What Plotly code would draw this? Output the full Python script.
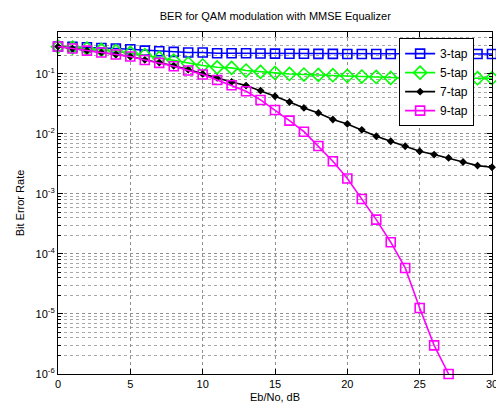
import plotly.graph_objects as go

ebno = list(range(0, 31))

ber_3tap = [0.286, 0.283, 0.279, 0.271, 0.265, 0.258, 0.245, 0.239, 0.233, 0.228,
            0.228, 0.221, 0.221, 0.221, 0.219, 0.218, 0.217, 0.217, 0.216, 0.216,
            0.215, 0.215, 0.215, 0.215, 0.215, 0.215, 0.215, 0.215, 0.215, 0.215, 0.215]
ber_5tap = [0.285, 0.275, 0.265, 0.252, 0.240, 0.225, 0.205, 0.185, 0.167, 0.149,
            0.138, 0.129, 0.126, 0.114, 0.108, 0.104, 0.100, 0.0977, 0.0963, 0.0952,
            0.0926, 0.0905, 0.0891, 0.0858, 0.0855, 0.0852, 0.085, 0.085, 0.0849, 0.0848, 0.0848]
ber_7tap = [0.286, 0.265, 0.245, 0.228, 0.211, 0.195, 0.172, 0.155, 0.137, 0.118,
            0.100, 0.0858, 0.0736, 0.064, 0.0528, 0.0425, 0.0341, 0.0271, 0.0224, 0.0174,
            0.0147, 0.0117, 0.00916, 0.00756, 0.00624, 0.00515, 0.00454, 0.00398, 0.00341,
            0.00297, 0.00279]
ber_9tap = [0.286, 0.265, 0.245, 0.228, 0.211, 0.195, 0.171, 0.153, 0.134, 0.114,
            0.0977, 0.0794, 0.0648, 0.0515, 0.0369, 0.0251, 0.0167, 0.0109, 0.0063, 0.00351,
            0.00181, 0.000826, 0.000374, 0.000157, 5.85e-5, 1.26e-5, 3.0e-6, 1.0e-6]

x_ticks = [0, 5, 10, 15, 20, 25, 30]
y_tickvals = [1e-6, 1e-5, 1e-4, 1e-3, 1e-2, 1e-1]
y_ticktext = ["10<sup>-6</sup>", "10<sup>-5</sup>", "10<sup>-4</sup>",
              "10<sup>-3</sup>", "10<sup>-2</sup>", "10<sup>-1</sup>"]
y_minor_vals = [m * d for d in y_tickvals for m in range(2, 10) if m * d <= 0.5]

FONT = "Liberation Sans, Arial, sans-serif"

fig = go.Figure()
fig.add_trace(go.Scatter(x=ebno, y=ber_3tap, name="3-tap", mode="lines+markers",
                         line=dict(color="#0000FF", width=1.6),
                         marker=dict(symbol="square-open", size=9, color="#0000FF",
                                     line=dict(width=1.6)),
                         cliponaxis=False))
fig.add_trace(go.Scatter(x=ebno, y=ber_5tap, name="5-tap", mode="lines+markers",
                         line=dict(color="#00FF00", width=1.6),
                         marker=dict(symbol="diamond-open", size=10, color="#00FF00",
                                     line=dict(width=1.6)),
                         cliponaxis=False))
fig.add_trace(go.Scatter(x=ebno, y=ber_7tap, name="7-tap", mode="lines+markers",
                         line=dict(color="#000000", width=1.6),
                         marker=dict(symbol="diamond", size=6, color="#000000"),
                         cliponaxis=False))
fig.add_trace(go.Scatter(x=ebno[:len(ber_9tap)], y=ber_9tap, name="9-tap", mode="lines+markers",
                         line=dict(color="#FF00FF", width=1.6),
                         marker=dict(symbol="square-open", size=9, color="#FF00FF",
                                     line=dict(width=1.6)),
                         cliponaxis=False))

fig.update_layout(
    width=496, height=408,
    margin=dict(l=58, r=4, t=32, b=34),
    paper_bgcolor="white", plot_bgcolor="white",
    font=dict(family=FONT, size=11, color="black"),
    title=dict(text="BER for QAM modulation with MMSE Equalizer",
               x=0.555, xanchor="center", y=0.96, yanchor="middle",
               font=dict(family=FONT, size=11, color="black")),
    showlegend=True,
    legend=dict(x=0.786, y=0.982, xanchor="left", yanchor="top",
                bgcolor="white", bordercolor="black", borderwidth=1,
                font=dict(family=FONT, size=12, color="black"),
                tracegroupgap=0, itemwidth=30),
)

fig.update_xaxes(
    range=[0, 30], tickvals=x_ticks, ticktext=[str(v) for v in x_ticks],
    ticklabeloverflow="allow",
    showline=True, linecolor="black", linewidth=1.2, mirror="allticks",
    ticks="inside", ticklen=5, tickcolor="black",
    showgrid=True, gridcolor="#909090", griddash="dot", gridwidth=1,
    zeroline=False, automargin=False,
    title=dict(text="Eb/No, dB", standoff=4, font=dict(family=FONT, size=11)),
    tickfont=dict(family=FONT, size=11),
)
fig.update_yaxes(
    type="log", range=[-6, -0.30103],
    tickvals=y_tickvals, ticktext=y_ticktext,
    ticklabeloverflow="allow",
    showline=True, linecolor="black", linewidth=1.2, mirror="allticks",
    ticks="inside", ticklen=5, tickcolor="black",
    showgrid=True, gridcolor="#909090", griddash="dot", gridwidth=1,
    minor=dict(tickvals=y_minor_vals, ticks="inside", ticklen=3, tickcolor="black",
               showgrid=True, gridcolor="#A8A8A8", griddash="dot", gridwidth=1),
    zeroline=False, automargin=False,
    title=dict(text="Bit Error Rate", standoff=8, font=dict(family=FONT, size=11)),
    tickfont=dict(family=FONT, size=11),
)

fig.write_html("out.html")
